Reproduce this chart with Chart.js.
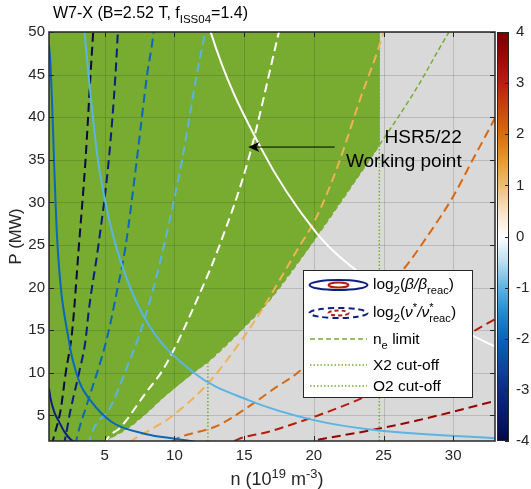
<!DOCTYPE html>
<html>
<head>
<meta charset="utf-8">
<script src="https://cdn.jsdelivr.net/npm/chart.js@4.4.1/dist/chart.umd.min.js"></script>
<style>
  html, body { margin: 0; padding: 0; background: #fff; }
  #wrap { width: 531px; height: 489px; }
</style>
</head>
<body>
<div id="wrap"><canvas id="chart" width="531" height="489"></canvas></div>
<script>
// axis ticks
const nTicks = [5, 10, 15, 20, 25, 30];
const pTicks = [5, 10, 15, 20, 25, 30, 35, 40, 45, 50];
const cbTicks = [4, 3, 2, 1, 0, -1, -2, -3, -4];

// log2(beta/beta_reac) contours (solid)
const betaM3N = [1.0, 1.11, 1.4, 1.71, 2.1, 2.54, 2.9];
const betaM3P = [8.2, 7.0, 5.3, 4.3, 3.1, 2.2, 1.8];
const betaM2N = [1.0, 1.1, 1.59, 2.42, 3.14, 4.0, 5.53, 8.0, 10.1, 11.5];
const betaM2P = [48.5, 46.4, 25.6, 13.8, 9.1, 6.7, 4.2, 2.8, 2.25, 1.9];
const betaM1N = [3.4, 3.55, 4.46, 5.05, 5.89, 7.8, 11.4, 15.3, 20.0, 24.5, 33.5];
const betaM1P = [53, 50, 35.6, 30, 24.4, 16.6, 10, 6.8, 4.45, 3.26, 2.28];
const beta0N = [12.3, 12.6, 16.2, 20.2, 22.6, 27.0, 31.6, 33.5];
const beta0P = [52, 50, 36.4, 26.4, 22.6, 18.0, 14.2, 12.7];

// log2(nu*/nu*_reac) contours (dashed)
const nuM4N = [1.2, 1.35, 1.83, 2.19, 2.67, 3.14, 3.62, 3.98, 4.17, 4.25];
const nuM4P = [1.5, 2.5, 5.6, 9.9, 15.0, 24.8, 35, 45, 50, 52];
const nuM3N = [2.05, 2.19, 2.54, 3.14, 3.62, 3.86, 4.53, 5.29, 5.77, 5.94, 6.0];
const nuM3P = [1.5, 2.5, 5.6, 9.9, 13.8, 17.4, 24.8, 35, 45, 50, 52];
const nuM2N = [2.9, 3.02, 3.74, 4.58, 5.18, 5.89, 6.49, 7.3, 8.04, 8.5, 8.6];
const nuM2P = [1.5, 2.5, 6.4, 10.7, 14.2, 19.7, 24.8, 35, 45, 50, 52];
const nuM1N = [3.85, 3.98, 5.41, 6.61, 7.68, 8.52, 9.23, 10.55, 11.6, 12.2, 12.4];
const nuM1P = [1.5, 2.5, 6.0, 10.7, 15.4, 20.1, 24.8, 35, 45, 50, 52];
const nu0N = [5.0, 5.2, 6.13, 7.92, 9.3, 12.0, 13.2, 15.3, 17.5, 17.8];
const nu0P = [1.6, 2.3, 3.6, 7.6, 10.7, 20, 24.8, 35, 50, 52];
const nuP1N = [6.8, 7.0, 8.43, 9.75, 12.4, 14.8, 16.2, 18.8, 20.2, 21.7, 23.3, 25.0, 25.3];
const nuP1P = [1.8, 2.1, 3.46, 4.82, 8.75, 13.8, 17.2, 24.4, 28.3, 34.2, 42.0, 50, 52];
const nuP2N = [9.8, 10.2, 13.1, 15.3, 17.2, 18.9, 22.0, 26.3, 28.3, 30.0, 31.4, 33.0, 33.5];
const nuP2P = [1.9, 2.3, 3.8, 6.0, 8.2, 10.1, 15.5, 21.9, 26.4, 30.7, 35.0, 39.9, 41.5];
const nuP3N = [14.3, 14.7, 16.7, 18.9, 20.3, 23.4, 27.5, 31.6, 33.0, 33.5];
const nuP3P = [2.0, 2.3, 3.06, 4.2, 5.0, 7.0, 10.5, 15.0, 16.3, 16.8];
const nuP4N = [20.3, 20.8, 24.1, 27.4, 33.0, 33.5];
const nuP4P = [2.15, 2.3, 3.26, 4.4, 6.7, 6.9];

// density limit and the accessible window (green)
const neLimN = [5.0, 6.72, 7.92, 9.23, 11.4, 12.4, 14.66, 16.8, 19.5, 24.4, 27.3, 29.7, 30.3];
const neLimP = [2.0, 3.6, 5.2, 7.2, 10.1, 11.3, 14.8, 18.5, 24.4, 36.0, 43.2, 50, 51.5];
const windowN = [1.0, 5.0, 6.72, 7.92, 9.23, 11.4, 12.4, 14.66, 16.8, 19.5, 24.4, 24.7, 24.7];
const windowP = [2.0, 2.0, 3.6, 5.2, 7.2, 10.1, 11.3, 14.8, 18.5, 24.4, 36.0, 36.8, 50];

// ECRH cut-offs
const x2CutN = [12.4, 12.4];
const x2CutP = [2, 11.3];
const o2CutN = [24.7, 24.7];
const o2CutP = [2, 50];

// working point annotation
const wpN = 15.3, wpP = 36.5, wpTailN = 21.5;

// colour scale (colorbar stops)
const cbStopVals = [-4, -3.5, -3, -2.5, -2, -1.5, -1, -0.5, 0, 0.5, 1, 1.5, 2, 2.5, 3, 3.5, 4];
const cbStopCols = ['#03084e', '#071a6a', '#0b2c84', '#0b4a9e', '#0c63b6', '#2389cc', '#5db3e2', '#b9ddf1', '#ffffff',
                    '#f8e2c4', '#efbd74', '#e6992c', '#d66d10', '#c8470e', '#b8200c', '#9c0a06', '#7a0000'];
const lvlColor = {
  '-4': '#070a45', '-3': '#0c1f80', '-2': '#0b66bd', '-1': '#5ab4e4',
  '0': '#ffffff', '1': '#efb255', '2': '#d9680f', '3': '#b81c0c', '4': '#9b0000'
};
const GREEN = '#77ac30';
const INK = '#262626';
const FONT = "'Liberation Sans', Arial, sans-serif";

function pts(ns, ps) {
  return ns.map((n, i) => ({ x: n, y: ps[i] }));
}

function curve(ns, ps, color, dash, width, order) {
  return {
    data: pts(ns, ps),
    borderColor: color,
    borderDash: dash,
    borderWidth: width,
    pointRadius: 0,
    fill: false,
    cubicInterpolationMode: 'monotone',
    clip: 0,
    order: order
  };
}

const dashed = [9, 5];
const datasets = [
  {
    data: pts(windowN, windowP),
    borderColor: GREEN,
    borderWidth: 1,
    backgroundColor: GREEN,
    pointRadius: 0,
    fill: 'end',
    tension: 0,
    clip: 0,
    order: 100
  },
  curve(neLimN, neLimP, GREEN, [5, 3], 1.5, 50),
  curve(x2CutN, x2CutP, GREEN, [1.5, 2], 1.5, 50),
  curve(o2CutN, o2CutP, GREEN, [1.5, 2], 1.5, 50),
  curve(betaM3N, betaM3P, lvlColor['-3'], [], 2, 10),
  curve(betaM2N, betaM2P, lvlColor['-2'], [], 2, 10),
  curve(betaM1N, betaM1P, lvlColor['-1'], [], 2, 10),
  curve(beta0N, beta0P, lvlColor['0'], [], 2, 10),
  curve(nuM4N, nuM4P, lvlColor['-4'], dashed, 2, 10),
  curve(nuM3N, nuM3P, lvlColor['-3'], dashed, 2, 10),
  curve(nuM2N, nuM2P, lvlColor['-2'], dashed, 2, 10),
  curve(nuM1N, nuM1P, lvlColor['-1'], dashed, 2, 10),
  curve(nu0N, nu0P, lvlColor['0'], dashed, 2, 10),
  curve(nuP1N, nuP1P, lvlColor['1'], dashed, 2, 10),
  curve(nuP2N, nuP2P, lvlColor['2'], dashed, 2, 10),
  curve(nuP3N, nuP3P, lvlColor['3'], dashed, 2, 10),
  curve(nuP4N, nuP4P, lvlColor['4'], dashed, 2, 10)
];

// text with sub/superscripts, parts = [[text, kind]]
function drawRich(ctx, parts, x, y, size, align) {
  const small = size * 0.72;
  const items = parts.map(([t, k]) => {
    const s = (k === 'sub' || k === 'sup' || k === 'sup0') ? small : size;
    const f = (k === 'i' ? 'italic ' : '') + s + 'px ' + FONT;
    ctx.font = f;
    const w = ctx.measureText(t).width;
    return { t, k, f, w: k === 'sup0' ? 0 : w };
  });
  const total = items.reduce((s, it) => s + it.w, 0);
  let cx = align === 'center' ? x - total / 2 : align === 'right' ? x - total : x;
  ctx.textAlign = 'left';
  ctx.textBaseline = 'alphabetic';
  items.forEach(it => {
    ctx.font = it.f;
    let dy = 0;
    if (it.k === 'sub') dy = size * 0.32;
    if (it.k === 'sup' || it.k === 'sup0') dy = -size * 0.38;
    ctx.fillText(it.t, cx, y + dy);
    cx += it.w;
  });
}

const decor = {
  id: 'decor',
  beforeDatasetsDraw(chart) {
    const { ctx, chartArea: a } = chart;
    ctx.save();
    ctx.fillStyle = '#d9d9d9';
    ctx.fillRect(a.left, a.top, a.right - a.left, a.bottom - a.top);
    ctx.restore();
  },
  afterDatasetDraw(chart, args) {
    // grid sits on top of the green window, below the contours
    if (args.index !== 0) return;
    const { ctx, chartArea: a, scales: { x, y } } = chart;
    ctx.save();
    ctx.strokeStyle = 'rgba(38,38,38,0.17)';
    ctx.lineWidth = 1;
    ctx.beginPath();
    nTicks.forEach(v => {
      const px = Math.round(x.getPixelForValue(v)) + 0.5;
      ctx.moveTo(px, a.top); ctx.lineTo(px, a.bottom);
    });
    pTicks.forEach(v => {
      const py = Math.round(y.getPixelForValue(v)) + 0.5;
      ctx.moveTo(a.left, py); ctx.lineTo(a.right, py);
    });
    ctx.stroke();
    ctx.restore();
  },
  afterDraw(chart) {
    const { ctx, chartArea: a, scales: { x, y, cb } } = chart;
    ctx.save();

    // colorbar
    const cbTop = cb.getPixelForValue(4), cbBot = cb.getPixelForValue(-4);
    const cbX = a.right + 2, cbW = 12;
    const grad = ctx.createLinearGradient(0, cbBot, 0, cbTop);
    cbStopVals.forEach((v, i) => grad.addColorStop((v + 4) / 8, cbStopCols[i]));
    ctx.fillStyle = grad;
    ctx.fillRect(cbX, cbTop, cbW, cbBot - cbTop);
    ctx.strokeStyle = INK;
    ctx.lineWidth = 1;
    ctx.strokeRect(cbX + 0.5, cbTop + 0.5, cbW - 1, cbBot - cbTop - 1);
    ctx.beginPath();
    cbTicks.forEach(v => {
      const py = Math.round(cb.getPixelForValue(v)) + 0.5;
      ctx.moveTo(cbX + cbW - 4, py); ctx.lineTo(cbX + cbW, py);
    });
    ctx.stroke();

    // axes box with inward ticks
    ctx.lineWidth = 1.5;
    ctx.strokeRect(a.left, a.top, a.right - a.left, a.bottom - a.top);
    ctx.lineWidth = 1;
    ctx.beginPath();
    nTicks.forEach(v => {
      const px = Math.round(x.getPixelForValue(v)) + 0.5;
      ctx.moveTo(px, a.bottom); ctx.lineTo(px, a.bottom - 5);
      ctx.moveTo(px, a.top); ctx.lineTo(px, a.top + 5);
    });
    pTicks.forEach(v => {
      const py = Math.round(y.getPixelForValue(v)) + 0.5;
      ctx.moveTo(a.left, py); ctx.lineTo(a.left + 5, py);
      ctx.moveTo(a.right, py); ctx.lineTo(a.right - 5, py);
    });
    ctx.stroke();

    // working point arrow
    const tipX = x.getPixelForValue(wpN), tipY = y.getPixelForValue(wpP);
    const tailX = x.getPixelForValue(wpTailN);
    ctx.strokeStyle = '#000';
    ctx.fillStyle = '#000';
    ctx.lineWidth = 1;
    ctx.beginPath();
    ctx.moveTo(tailX, tipY); ctx.lineTo(tipX + 7, tipY);
    ctx.stroke();
    ctx.beginPath();
    ctx.moveTo(tipX, tipY);
    ctx.lineTo(tipX + 11, tipY - 5);
    ctx.lineTo(tipX + 8, tipY);
    ctx.lineTo(tipX + 11, tipY + 5);
    ctx.closePath();
    ctx.fill();
    ctx.font = '19px ' + FONT;
    ctx.textAlign = 'right';
    ctx.textBaseline = 'alphabetic';
    ctx.fillText('HSR5/22', tailX + 127, tipY - 4);
    ctx.fillText('Working point', tailX + 127, tipY + 20);

    // legend
    const lx = 303, ly = 270, lw = 170, lh = 128;
    ctx.fillStyle = '#fff';
    ctx.fillRect(lx, ly, lw, lh);
    ctx.strokeStyle = INK;
    ctx.lineWidth = 1;
    ctx.strokeRect(lx + 0.5, ly + 0.5, lw - 1, lh - 1);
    const icx = lx + 35.5, tx = lx + 70;
    const rows = [285, 313, 339, 365, 386];
    [0, 1].forEach(r => {
      ctx.setLineDash(r ? [6, 4] : []);
      ctx.lineWidth = 2;
      ctx.strokeStyle = lvlColor['-3'];
      ctx.beginPath(); ctx.ellipse(icx, rows[r], 29, 5, 0, 0, Math.PI * 2); ctx.stroke();
      ctx.strokeStyle = lvlColor['3'];
      ctx.setLineDash(r ? [4, 3] : []);
      ctx.beginPath(); ctx.ellipse(icx, rows[r], 10, 2.5, 0, 0, Math.PI * 2); ctx.stroke();
    });
    ctx.strokeStyle = GREEN;
    ctx.lineWidth = 1.5;
    [[2, [5, 3]], [3, [1.5, 2]], [4, [1.5, 2]]].forEach(([r, d]) => {
      ctx.setLineDash(d);
      ctx.beginPath(); ctx.moveTo(lx + 7, rows[r]); ctx.lineTo(lx + 64, rows[r]); ctx.stroke();
    });
    ctx.setLineDash([]);
    ctx.fillStyle = '#000';
    drawRich(ctx, [['log', ''], ['2', 'sub'], ['(', ''], ['β', 'i'], ['/', 'i'], ['β', 'i'], ['reac', 'sub'], [')', '']], tx, rows[0] + 4, 15.5, 'left');
    drawRich(ctx, [['log', ''], ['2', 'sub'], ['(', ''], ['ν', 'i'], ['*', 'sup'], ['/', 'i'], ['ν', 'i'], ['*', 'sup0'], ['reac', 'sub'], [')', '']], tx, rows[1] + 4, 15.5, 'left');
    drawRich(ctx, [['n', ''], ['e', 'sub'], [' limit', '']], tx, rows[2] + 5, 15.5, 'left');
    drawRich(ctx, [['X2 cut-off', '']], tx, rows[3] + 5, 15.5, 'left');
    drawRich(ctx, [['O2 cut-off', '']], tx, rows[4] + 5, 15.5, 'left');

    // titles
    ctx.fillStyle = '#000';
    drawRich(ctx, [['W7-X (B=2.52 T, f', ''], ['ISS04', 'sub'], ['=1.4)', '']], 53, 18, 16, 'left');
    ctx.fillStyle = INK;
    drawRich(ctx, [['n (10', ''], ['19', 'sup'], [' m', ''], ['-3', 'sup'], [')', '']], 277, 485, 18, 'center');
    ctx.translate(21, (a.top + a.bottom) / 2);
    ctx.rotate(-Math.PI / 2);
    drawRich(ctx, [['P (MW)', '']], 0, 0, 16.5, 'center');
    ctx.restore();
  }
};

const tickFont = { family: FONT, size: 15 };

new Chart(document.getElementById('chart'), {
  type: 'line',
  data: { datasets },
  options: {
    responsive: false,
    animation: false,
    devicePixelRatio: 1,
    layout: { padding: { top: 32, left: 0, right: 0, bottom: 0 } },
    plugins: {
      legend: { display: false },
      tooltip: { enabled: false },
      title: { display: false }
    },
    scales: {
      x: {
        type: 'linear',
        position: 'bottom',
        min: 1,
        max: 33,
        grid: { display: false, drawTicks: false },
        border: { display: false },
        ticks: { color: INK, font: tickFont, padding: 6, maxRotation: 0, autoSkip: false },
        afterBuildTicks: s => { s.ticks = nTicks.map(v => ({ value: v })); },
        afterFit: s => { s.height = 48; }
      },
      y: {
        type: 'linear',
        position: 'left',
        min: 2,
        max: 50,
        grid: { display: false, drawTicks: false },
        border: { display: false },
        ticks: { color: INK, font: tickFont, padding: 4, autoSkip: false },
        afterBuildTicks: s => { s.ticks = pTicks.map(v => ({ value: v })); },
        afterFit: s => { s.width = 49; }
      },
      cb: {
        type: 'linear',
        position: 'right',
        min: -4,
        max: 4,
        grid: { display: false, drawTicks: false },
        border: { display: false },
        ticks: { color: INK, font: tickFont, padding: 21, autoSkip: false },
        afterBuildTicks: s => { s.ticks = cbTicks.map(v => ({ value: v })); },
        afterFit: s => { s.width = 36; }
      }
    }
  },
  plugins: [decor]
});
</script>
</body>
</html>
